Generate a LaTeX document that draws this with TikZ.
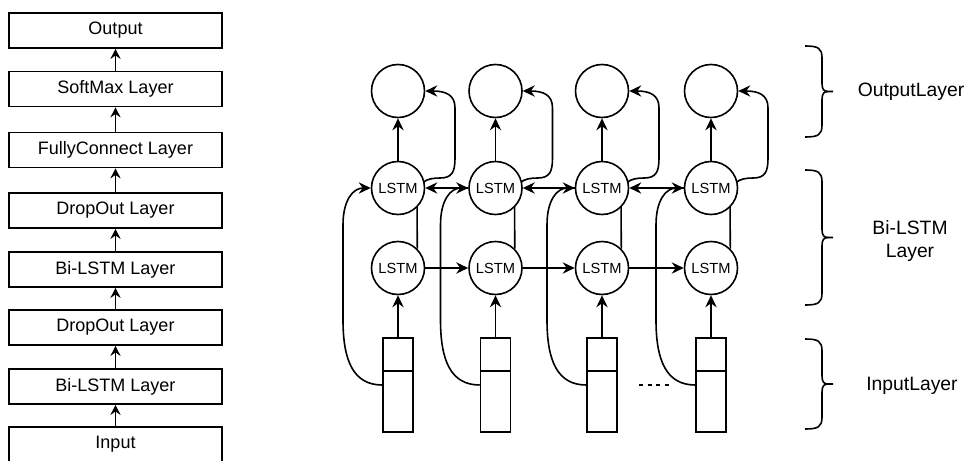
\documentclass[tikz,border=0pt]{standalone}
\usepackage{fontspec}
\setmainfont{Liberation Sans}
\usetikzlibrary{arrows.meta,backgrounds}

\begin{document}
\begin{tikzpicture}[x=0.75pt,y=-0.75pt,
  layerbox/.style={draw,line width=1.2pt,minimum width=159.75pt,minimum height=26.25pt,
    inner sep=0pt,font=\fontsize{13.5}{16}\selectfont},
  uparrow/.style={line width=1.2pt,-{Stealth[length=7.5pt,width=7.5pt,inset=2.5pt]}},
  cell/.style={circle,draw,fill=white,line width=1.2pt,minimum size=39.75pt,inner sep=0pt,
    font=\fontsize{11}{13}\selectfont},
  vec/.style={draw,fill=white,line width=1.2pt,minimum width=22.5pt,minimum height=70.5pt,inner sep=0pt},
  link/.style={line width=1.2pt,-{Stealth[length=9pt,width=8.5pt,inset=3pt]}},
  wire/.style={line width=1.2pt},
  tag/.style={font=\fontsize{14.5}{17}\selectfont,align=center},
  brace/.style={line width=1.2pt}
]
\useasboundingbox (0,0) rectangle (966,460);

% ---- layer stack on the left ----
\foreach \name/\y/\txt in {out/30.5/Output, sm/89/SoftMax Layer, fc/150/FullyConnect Layer,
    doa/210.5/DropOut Layer, bla/269.5/Bi-LSTM Layer, dob/327.5/DropOut Layer,
    blb/386.5/Bi-LSTM Layer, inp/444.5/Input}
  \node[layerbox] (\name) at (115.5,\y) {\txt};
\foreach \a/\b in {inp/blb, blb/dob, dob/bla, bla/doa, doa/fc, fc/sm, sm/out}
  \draw[uparrow] (\a) -- (\b);

% ---- unrolled Bi-LSTM network ----
\foreach \i/\cx in {1/398, 2/495.5, 3/602, 4/711} {
  \node[cell] (o\i) at (\cx,91) {};
  \node[cell] (u\i) at (\cx,188) {LSTM};
  \node[cell] (l\i) at (\cx,268) {LSTM};
  \node[vec] (x\i) at (\cx,385) {};
  \draw[wire] (x\i.north west) ++(0,34) -- ++(30,0);
  \draw[link] (x\i) -- (l\i);
  \draw[link] (u\i) -- (o\i);
  \begin{scope}[on background layer]
    % input feeds the backward cell
    \draw[link] (x\i.west) .. controls (\cx-45,385) and (\cx-55,360) .. (\cx-55,320)
      -- (\cx-55,225) .. controls (\cx-55,200) and (\cx-45,188) .. (u\i.west);
    % forward cell feeds the output
    \draw[link] (l\i.45) -- (\cx+19,200) .. controls (\cx+19,182) and (\cx+28,178) .. (\cx+42,178)
      .. controls (\cx+54,178) and (\cx+57,172) .. (\cx+57,158) -- (\cx+57,108)
      .. controls (\cx+57,95) and (\cx+48,91) .. (o\i.east);
  \end{scope}
}
% forward and backward recurrences
\foreach \a/\b in {1/2, 2/3, 3/4} {
  \draw[link] (l\a) -- (l\b);
  \draw[link] (u\b) -- (u\a);
}
\draw[line width=1pt,dash pattern=on 3pt off 3.5pt] (639,385) -- (670,385);

% ---- braces and layer names ----
\foreach \t/\b in {46/137, 170/305, 339/429} {
  \pgfmathsetmacro\m{(\t+\b)/2}
  \draw[brace] (805,\t) .. controls (818,\t) and (822,\t+2) .. (822,\t+12) -- (822,\m-8)
    .. controls (822,\m-2) and (824,\m) .. (828,\m) -- (833,\m);
  \draw[brace] (805,\b) .. controls (818,\b) and (822,\b-2) .. (822,\b-12) -- (822,\m+8)
    .. controls (822,\m+2) and (824,\m) .. (828,\m);
}
\node[tag] (t1) at (911,92) {OutputLayer};
\node[tag] (t2) at (910,241) {Bi-LSTM\\Layer};
\node[tag] (t3) at (912,386) {InputLayer};
\end{tikzpicture}
\end{document}
